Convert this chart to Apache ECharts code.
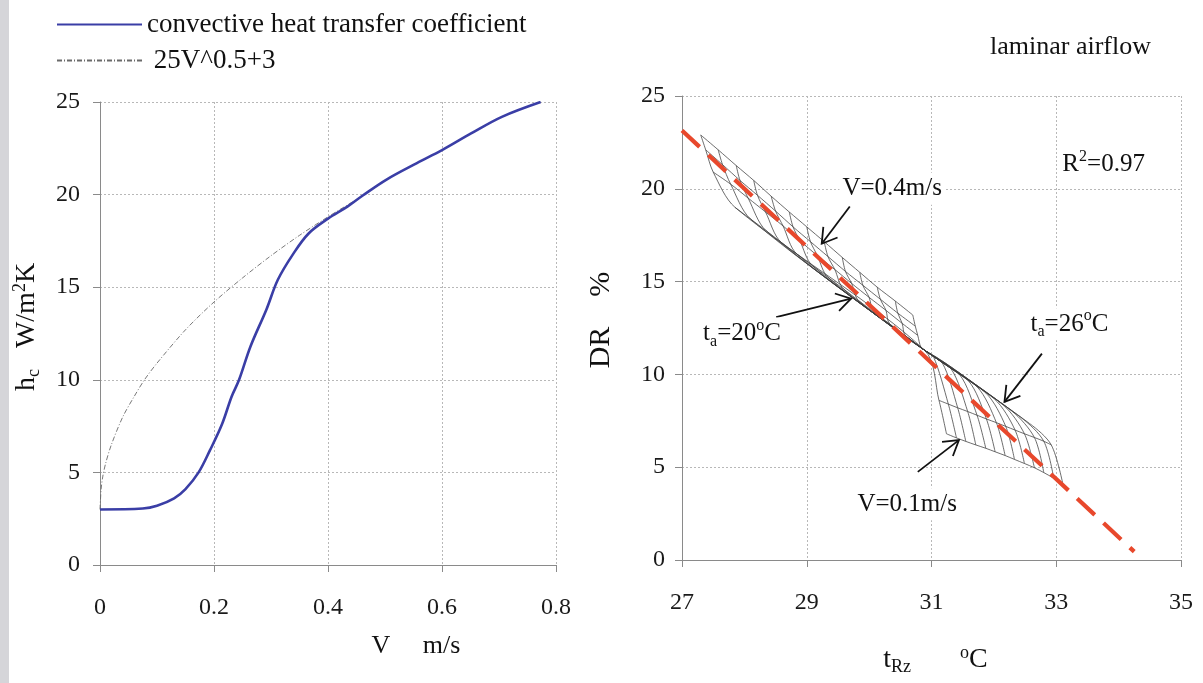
<!DOCTYPE html>
<html>
<head>
<meta charset="utf-8">
<script src="https://cdn.jsdelivr.net/npm/echarts@6/dist/echarts.min.js"></script>
<style>
html,body{margin:0;padding:0;background:#fff;}
#c{width:1203px;height:683px;}
</style>
</head>
<body>
<div id="c"></div>
<script>
// ================= DATA =================
// Left chart: convective heat transfer coefficient vs air velocity
const velocityTicks = [0, 0.2, 0.4, 0.6, 0.8];
const hcTicks = [0, 5, 10, 15, 20, 25];
const hcV   = [0, 0.075, 0.10, 0.13, 0.15, 0.173, 0.193, 0.214, 0.231, 0.244, 0.264, 0.292, 0.312, 0.339, 0.366, 0.40, 0.434, 0.461, 0.502, 0.556, 0.60, 0.651, 0.705, 0.773];
const hcVal = [3.0, 3.05, 3.2, 3.6, 4.1, 5.0, 6.2, 7.6, 9.1, 10.0, 11.8, 13.8, 15.4, 16.8, 17.9, 18.7, 19.35, 19.95, 20.8, 21.7, 22.4, 23.3, 24.2, 25.0];
// dash-dot reference curve "25V^0.5+3"
const fitV   = [0, 0.002, 0.005, 0.01, 0.02, 0.04, 0.06, 0.078, 0.10, 0.15, 0.20, 0.25, 0.30, 0.35, 0.40, 0.461, 0.502, 0.556, 0.60, 0.651, 0.705, 0.773];
const fitVal = [3.0, 4.1, 4.8, 5.5, 6.5, 8.0, 9.1, 10.0, 10.9, 12.7, 14.2, 15.5, 16.7, 17.8, 18.8, 19.95, 20.8, 21.7, 22.4, 23.3, 24.2, 25.0];
const seriesNames = ['convective heat transfer coefficient', '25V^0.5+3'];

// Right chart: draught rate DR vs tRz (laminar airflow)
const tRzTicks = [27, 29, 31, 33, 35];
const drTicks = [0, 5, 10, 15, 20, 25];
const taLevels = [20, 20.5, 21, 21.5, 22, 22.5, 23, 23.5, 24, 24.5, 25, 25.5, 26];
const vLevels = [0.4, 0.35, 0.3, 0.25, 0.15, 0.1];
// mesh nodes [tRz, DR] per air temperature ta (index) for each velocity level
const meshV040 = [[27.30,22.90],[27.58,22.10],[27.87,21.25],[28.15,20.45],[28.43,19.60],[28.72,18.75],[29.00,17.95],[29.28,17.15],[29.57,16.30],[29.85,15.50],[30.13,14.70],[30.42,13.95],[30.70,13.20]];
const meshV035 = [[27.38,22.10],[27.65,21.30],[27.93,20.45],[28.21,19.65],[28.50,18.80],[28.78,17.95],[29.06,17.15],[29.34,16.35],[29.62,15.55],[29.90,14.80],[30.18,14.05],[30.46,13.30],[30.74,12.60]];
const meshV030 = [[27.50,20.90],[27.78,20.25],[28.06,19.50],[28.34,18.75],[28.62,18.00],[28.89,17.20],[29.17,16.40],[29.45,15.65],[29.72,14.90],[30.00,14.15],[30.27,13.45],[30.53,12.75],[30.78,12.10]];
const meshV025 = [[27.85,19.00],[28.10,18.37],[28.35,17.74],[28.59,17.12],[28.84,16.49],[29.09,15.86],[29.34,15.23],[29.59,14.60],[29.83,13.98],[30.08,13.35],[30.33,12.72],[30.58,12.09],[30.83,11.46]];
const meshFold = [30.89, 11.30];
const meshPeel = [[30.89,11.30],[31.03,10.97],[31.17,10.64],[31.31,10.32],[31.45,9.99],[31.59,9.66],[31.73,9.33],[31.87,9.00],[32.01,8.67],[32.15,8.35],[32.29,8.02],[32.43,7.69],[32.57,7.36]];
const meshV015 = [[31.12,8.60],[31.27,8.40],[31.42,8.20],[31.58,8.00],[31.73,7.80],[31.88,7.60],[32.04,7.40],[32.19,7.20],[32.34,7.00],[32.49,6.80],[32.65,6.60],[32.80,6.40],[32.92,6.20]];
const meshV010 = [[31.24,6.80],[31.40,6.58],[31.55,6.39],[31.71,6.20],[31.87,6.02],[32.02,5.83],[32.18,5.63],[32.33,5.42],[32.49,5.20],[32.65,4.97],[32.80,4.71],[32.96,4.40],[33.11,4.03]];
// linear regression line (R^2 = 0.97)
const regTRz = [27.0, 34.25];
const regDR  = [23.14, 0.45];

// ================= LAYOUT / ANNOTATIONS =================
const serif = '"Liberation Serif", "Times New Roman", serif';
const richSS = {
  sub: {fontSize: 16, fontFamily: serif, verticalAlign: 'bottom', lineHeight: 16, color: '#111'},
  sup: {fontSize: 16, fontFamily: serif, verticalAlign: 'top', lineHeight: 16, color: '#111'}
};
const richBig = {
  sub: {fontSize: 18, fontFamily: serif, verticalAlign: 'bottom', lineHeight: 16, color: '#111'},
  sup: {fontSize: 18, fontFamily: serif, verticalAlign: 'top', lineHeight: 16, color: '#111'}
};
const notes = [
  {at: [30.37, 20.0], text: 'V=0.4m/s', align: 'center'},
  {at: [33.05, 21.3], text: 'R{sup|2}=0.97', align: 'left'},
  {at: [27.29, 12.2], text: 't{sub|a}=20{sup|o}C', align: 'left'},
  {at: [32.54, 12.7], text: 't{sub|a}=26{sup|o}C', align: 'left'},
  {at: [30.61, 3.0], text: 'V=0.1m/s', align: 'center'}
];
const arrows = [
  [29.69, 19.05, 29.24, 17.04],
  [28.51, 13.09, 29.71, 14.08],
  [32.77, 11.12, 32.17, 8.52],
  [30.78, 4.75, 31.44, 6.46]
];

// ================= CHART =================
const chart = echarts.init(document.getElementById('c'), null, {renderer: 'canvas'});
const axisGray = '#8a8a8a';
const gridLine = {show: true, lineStyle: {color: '#b8b8b8', width: 1, type: [2, 2]}};
const labelStyle = (margin, fmt) => ({fontFamily: serif, fontSize: 24, color: '#1a1a1a', margin: margin, formatter: fmt});

function meshLine(name, pts) {
  return {
    name: name, type: 'line', xAxisIndex: 1, yAxisIndex: 1,
    data: pts, symbol: 'none', smooth: 0.3, silent: true, z: 2,
    lineStyle: {color: '#3c3c3c', width: 0.75}
  };
}
const meshSeries = [];
taLevels.forEach((ta, i) => {
  meshSeries.push(meshLine('ta=' + ta, [meshV040[i], meshV035[i], meshV030[i], meshV025[i], meshFold, meshPeel[i], meshV015[i], meshV010[i]]));
});
[meshV040, meshV035, meshV030, meshV025, meshV015, meshV010].forEach((arr, k) => {
  meshSeries.push(meshLine('V=' + vLevels[k], arr));
});

const option = {
  animation: false,
  backgroundColor: '#fff',
  title: {
    text: 'laminar airflow', left: 985, top: 29,
    textStyle: {fontFamily: serif, fontSize: 26, fontWeight: 'normal', color: '#111'}
  },
  legend: {
    data: seriesNames, orient: 'vertical', left: 51, top: 6,
    itemWidth: 85, itemHeight: 12, itemGap: 9,
    itemStyle: {color: 'rgba(0,0,0,0)', borderColor: 'rgba(0,0,0,0)', borderWidth: 0, opacity: 0},
    formatter: n => n === seriesNames[1] ? ' ' + n : n,
    textStyle: {fontFamily: serif, fontSize: 27, color: '#111'}
  },
  graphic: [{type: 'rect', left: 0, top: 0, shape: {width: 9, height: 683}, style: {fill: '#d5d5d9'}, silent: true}],
  grid: [
    {left: 100, top: 102, width: 456, height: 463},
    {left: 682, top: 96, width: 499, height: 464}
  ],
  xAxis: [
    {
      gridIndex: 0, type: 'value', min: velocityTicks[0], max: velocityTicks[velocityTicks.length - 1], interval: 0.2,
      axisLine: {show: true, lineStyle: {color: axisGray}},
      axisTick: {show: true, length: 7, lineStyle: {color: axisGray}},
      axisLabel: labelStyle(31, v => v === 0 ? '0' : v.toFixed(1)),
      splitLine: gridLine,
      name: 'V     m/s', nameLocation: 'middle', nameGap: 68,
      nameTextStyle: {fontFamily: serif, fontSize: 26, color: '#111', padding: [0, 0, 0, 176]}
    },
    {
      gridIndex: 1, type: 'value', min: tRzTicks[0], max: tRzTicks[tRzTicks.length - 1], interval: 2,
      axisLine: {show: true, lineStyle: {color: axisGray}},
      axisTick: {show: true, length: 7, lineStyle: {color: axisGray}},
      axisLabel: labelStyle(31),
      splitLine: gridLine,
      name: 't{sub|Rz}       {sup|o}C', nameLocation: 'middle', nameGap: 84,
      nameTextStyle: {fontFamily: serif, fontSize: 28, color: '#111', lineHeight: 32, padding: [0, 0, 0, 8], rich: richBig}
    }
  ],
  yAxis: [
    {
      gridIndex: 0, type: 'value', min: hcTicks[0], max: hcTicks[hcTicks.length - 1], interval: 5,
      axisLine: {show: true, lineStyle: {color: axisGray}},
      axisTick: {show: true, length: 7, lineStyle: {color: axisGray}},
      axisLabel: labelStyle(20),
      splitLine: gridLine,
      name: 'h{sub|c}   W/m{sup|2}K', nameLocation: 'middle', nameGap: 57,
      nameTextStyle: {fontFamily: serif, fontSize: 28, color: '#111', lineHeight: 32, padding: [0, 0, 0, 13], rich: richBig}
    },
    {
      gridIndex: 1, type: 'value', min: drTicks[0], max: drTicks[drTicks.length - 1], interval: 5,
      axisLine: {show: true, lineStyle: {color: axisGray}},
      axisTick: {show: true, length: 7, lineStyle: {color: axisGray}},
      axisLabel: labelStyle(17),
      splitLine: gridLine,
      name: 'DR    %', nameLocation: 'middle', nameGap: 66,
      nameTextStyle: {fontFamily: serif, fontSize: 30, color: '#111', padding: [0, 0, 0, 16]}
    }
  ],
  series: [
    {
      name: seriesNames[1], type: 'line', xAxisIndex: 0, yAxisIndex: 0,
      data: fitV.map((v, i) => [v, fitVal[i]]), symbol: 'none', smooth: 0.3, z: 2,
      lineStyle: {color: '#6a6a6a', width: 0.9, type: [5, 2, 1, 2]},
      itemStyle: {color: '#6a6a6a'}
    },
    {
      name: seriesNames[0], type: 'line', xAxisIndex: 0, yAxisIndex: 0,
      data: hcV.map((v, i) => [v, hcVal[i]]), symbol: 'none', smooth: 0.35, z: 3,
      lineStyle: {color: '#3a3ea6', width: 2.6},
      itemStyle: {color: '#3a3ea6'}
    },
    ...meshSeries,
    {
      name: 'regression', type: 'line', xAxisIndex: 1, yAxisIndex: 1,
      data: regTRz.map((t, i) => [t, regDR[i]]), symbol: 'none', z: 4, silent: true,
      lineStyle: {color: '#e8482c', width: 4.2, type: [24, 12], cap: 'butt'}
    },
    {
      name: 'arrows', type: 'custom', xAxisIndex: 1, yAxisIndex: 1, z: 5, silent: true,
      encode: {x: [0, 2], y: [1, 3]},
      data: arrows,
      renderItem: function (params, api) {
        const p1 = api.coord([api.value(0), api.value(1)]);
        const p2 = api.coord([api.value(2), api.value(3)]);
        const ang = Math.atan2(p2[1] - p1[1], p2[0] - p1[0]);
        const L = 17, a = 0.55;
        const h1 = [p2[0] - L * Math.cos(ang - a), p2[1] - L * Math.sin(ang - a)];
        const h2 = [p2[0] - L * Math.cos(ang + a), p2[1] - L * Math.sin(ang + a)];
        return {
          type: 'group', children: [
            {type: 'line', shape: {x1: p1[0], y1: p1[1], x2: p2[0], y2: p2[1]}, style: {stroke: '#111', lineWidth: 1.8}},
            {type: 'polyline', shape: {points: [h1, p2, h2]}, style: {stroke: '#111', lineWidth: 1.8, fill: null}}
          ]
        };
      }
    },
    {
      name: 'notes', type: 'custom', xAxisIndex: 1, yAxisIndex: 1, z: 6, silent: true,
      encode: {x: 0, y: 1},
      data: notes.map((n, i) => [n.at[0], n.at[1], i]),
      renderItem: function (params, api) {
        const n = notes[api.value(2)];
        const p = api.coord([api.value(0), api.value(1)]);
        return {
          type: 'text', x: p[0], y: p[1],
          style: {
            text: n.text, align: n.align, verticalAlign: 'middle',
            fill: '#111', fontSize: 25, fontFamily: serif, lineHeight: 32,
            rich: richSS, backgroundColor: '#fff', padding: [0, 3]
          }
        };
      }
    }
  ]
};
chart.setOption(option);
</script>
</body>
</html>
